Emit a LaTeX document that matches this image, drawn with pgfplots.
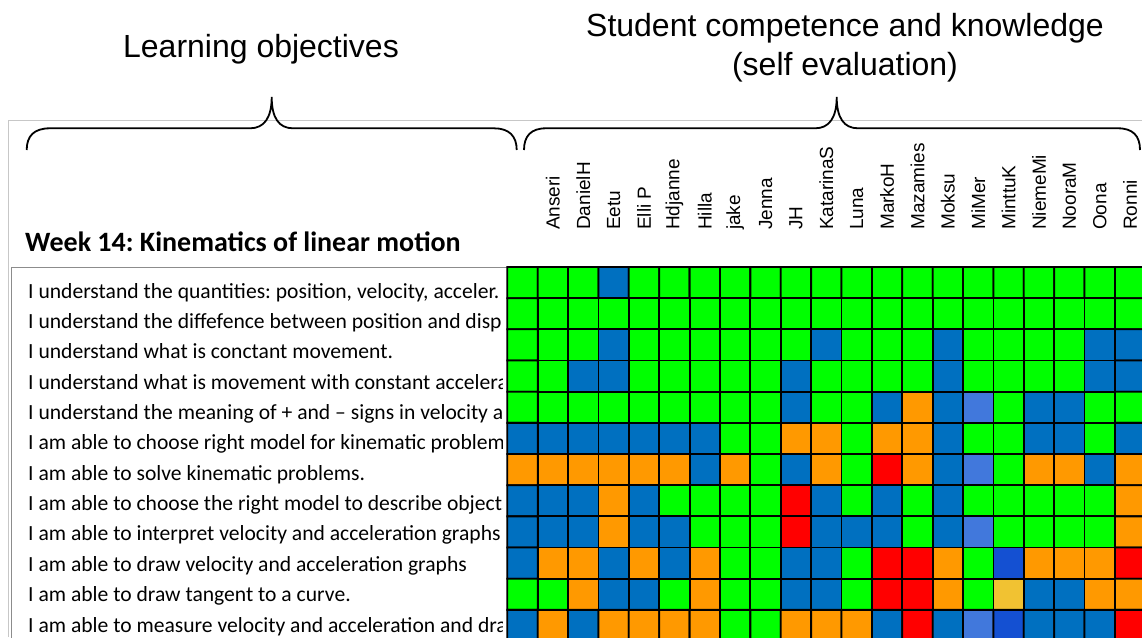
\documentclass[border=0pt]{standalone}
\usepackage{pgfplots}
\pgfplotsset{compat=1.18}
\usepackage{fontspec}
\setmainfont{Carlito}
\newfontfamily\arialfont{Liberation Sans}
\frenchspacing
\begin{document}
\frenchspacing
\begin{tikzpicture}[x=1pt,y=-1pt]
\useasboundingbox (0,0) rectangle (1142,637);
\fill[white] (0,0) rectangle (1142,637);
% outer frame
\draw[line width=1pt, black!22] (8.3,637) -- (8.3,120.5) -- (1142,120.5);
% titles
\node[anchor=base, inner sep=0pt, font=\arialfont\fontsize{32}{32}\selectfont] at (261,57) {Learning objectives};
\node[anchor=base, inner sep=0pt, font=\arialfont\fontsize{32}{32}\selectfont] at (845,36) {Student competence and knowledge};
\node[anchor=base, inner sep=0pt, font=\arialfont\fontsize{32}{32}\selectfont] at (845,75) {(self evaluation)};
% braces
\draw[line width=1.8pt, black] (26.7,150) .. controls (26.7,136) and (34,128.3) .. (50,128.3) -- (250,128.3) .. controls (264,128.3) and (271.7,118) .. (271.7,97)
  .. controls (271.7,118) and (279,128.3) .. (293,128.3) -- (494,128.3) .. controls (509,128.3) and (516.7,136) .. (516.7,150);
\draw[line width=1.8pt, black] (524,150) .. controls (524,136) and (531,128.3) .. (546,128.3) -- (815,128.3) .. controls (829,128.3) and (836.7,118) .. (836.7,97)
  .. controls (836.7,118) and (844,128.3) .. (858,128.3) -- (1118,128.3) .. controls (1133,128.3) and (1140,136) .. (1140,150);
% week title
\node[anchor=base west, inner sep=0pt, font=\bfseries\fontsize{28}{28}\selectfont] at (25,251.7) {Week 14: Kinematics of linear motion};
% statements box
\draw[black!45, line width=1.2pt] (11.5,640) -- (11.5,267.8) -- (507,267.8);
\begin{scope}
\clip (12,269) rectangle (502,637);
\begin{scope}[every node/.style={anchor=base west, inner sep=0pt, font=\fontsize{21.6}{21.6}\selectfont}]
\node at (28,298) {I understand the quantities: position, velocity, acceler.};
\node at (28,328.4) {I understand the diffefence between position and displacement};
\node at (28,358.7) {I understand what is conctant movement.};
\node at (28,389.1) {I understand what is movement with constant acceleration};
\node at (28,419.4) {I understand the meaning of + and – signs in velocity and acceleration};
\node at (28,449.8) {I am able to choose right model for kinematic problems};
\node at (28,480.2) {I am able to solve kinematic problems.};
\node at (28,510.5) {I am able to choose the right model to describe objects};
\node at (28,540.9) {I am able to interpret velocity and acceleration graphs};
\node at (28,571.2) {I am able to draw velocity and acceleration graphs};
\node at (28,601.6) {I am able to draw tangent to a curve.};
\node at (28,632) {I am able to measure velocity and acceleration and draw graphs};
\end{scope}
\end{scope}
\begin{axis}[
 at={(507.3pt,-267pt)}, anchor=north west,
 scale only axis, width=634.7pt, height=370pt,
 xmin=-0.5, xmax=20.39, ymin=-12.37, ymax=-0.5,
 axis line style={draw=none},
 ytick=\empty,
 xtick={1,...,20},
 xticklabels={Anseri,DanielH,Eetu,Elli P,Hdjanne,Hilla,jake,Jenna,JH,KatarinaS,Luna,MarkoH,Mazamies,Moksu,MiMer,MinttuK,NiemeMi,NooraM,Oona,Ronni},
 xticklabel pos=upper,
 major tick length=0pt,
 xticklabel style={rotate=90, anchor=west, inner sep=0pt, font=\arialfont\fontsize{19}{19}\selectfont},
 xticklabel shift=37pt,
 clip=false,
 colormap={cat}{rgb255=(0,255,0) rgb255=(0,112,192) rgb255=(255,153,0) rgb255=(255,0,0) rgb255=(65,120,220) rgb255=(20,80,210) rgb255=(241,194,50)},
 colormap access=direct,
]
\addplot[matrix plot*, mesh/cols=21, mesh/rows=12, point meta=explicit, shader=faceted, faceted color=black, line width=1.8pt] coordinates {
(0,-1) [0] (1,-1) [0] (2,-1) [0] (3,-1) [1] (4,-1) [0] (5,-1) [0] (6,-1) [0] (7,-1) [0] (8,-1) [0] (9,-1) [0] (10,-1) [0] (11,-1) [0] (12,-1) [0] (13,-1) [0] (14,-1) [0] (15,-1) [0] (16,-1) [0] (17,-1) [0] (18,-1) [0] (19,-1) [0] (20,-1) [0]
(0,-2) [0] (1,-2) [0] (2,-2) [0] (3,-2) [0] (4,-2) [0] (5,-2) [0] (6,-2) [0] (7,-2) [0] (8,-2) [0] (9,-2) [0] (10,-2) [0] (11,-2) [0] (12,-2) [0] (13,-2) [0] (14,-2) [0] (15,-2) [0] (16,-2) [0] (17,-2) [0] (18,-2) [0] (19,-2) [0] (20,-2) [0]
(0,-3) [0] (1,-3) [0] (2,-3) [0] (3,-3) [1] (4,-3) [0] (5,-3) [0] (6,-3) [0] (7,-3) [0] (8,-3) [0] (9,-3) [0] (10,-3) [1] (11,-3) [0] (12,-3) [0] (13,-3) [0] (14,-3) [1] (15,-3) [0] (16,-3) [0] (17,-3) [0] (18,-3) [0] (19,-3) [1] (20,-3) [1]
(0,-4) [0] (1,-4) [0] (2,-4) [1] (3,-4) [1] (4,-4) [0] (5,-4) [0] (6,-4) [0] (7,-4) [0] (8,-4) [0] (9,-4) [1] (10,-4) [0] (11,-4) [0] (12,-4) [0] (13,-4) [0] (14,-4) [1] (15,-4) [0] (16,-4) [0] (17,-4) [0] (18,-4) [0] (19,-4) [1] (20,-4) [1]
(0,-5) [0] (1,-5) [0] (2,-5) [0] (3,-5) [0] (4,-5) [0] (5,-5) [0] (6,-5) [0] (7,-5) [0] (8,-5) [0] (9,-5) [1] (10,-5) [0] (11,-5) [0] (12,-5) [1] (13,-5) [2] (14,-5) [1] (15,-5) [4] (16,-5) [0] (17,-5) [1] (18,-5) [1] (19,-5) [0] (20,-5) [0]
(0,-6) [1] (1,-6) [1] (2,-6) [1] (3,-6) [1] (4,-6) [1] (5,-6) [1] (6,-6) [1] (7,-6) [0] (8,-6) [0] (9,-6) [2] (10,-6) [2] (11,-6) [0] (12,-6) [2] (13,-6) [2] (14,-6) [1] (15,-6) [0] (16,-6) [0] (17,-6) [1] (18,-6) [1] (19,-6) [0] (20,-6) [1]
(0,-7) [2] (1,-7) [2] (2,-7) [2] (3,-7) [2] (4,-7) [2] (5,-7) [2] (6,-7) [1] (7,-7) [2] (8,-7) [0] (9,-7) [1] (10,-7) [2] (11,-7) [0] (12,-7) [3] (13,-7) [2] (14,-7) [1] (15,-7) [4] (16,-7) [0] (17,-7) [2] (18,-7) [2] (19,-7) [1] (20,-7) [2]
(0,-8) [1] (1,-8) [1] (2,-8) [1] (3,-8) [2] (4,-8) [1] (5,-8) [0] (6,-8) [0] (7,-8) [0] (8,-8) [0] (9,-8) [3] (10,-8) [1] (11,-8) [0] (12,-8) [1] (13,-8) [0] (14,-8) [1] (15,-8) [0] (16,-8) [0] (17,-8) [0] (18,-8) [0] (19,-8) [0] (20,-8) [2]
(0,-9) [1] (1,-9) [1] (2,-9) [1] (3,-9) [2] (4,-9) [1] (5,-9) [1] (6,-9) [0] (7,-9) [0] (8,-9) [0] (9,-9) [3] (10,-9) [1] (11,-9) [1] (12,-9) [1] (13,-9) [0] (14,-9) [1] (15,-9) [4] (16,-9) [0] (17,-9) [0] (18,-9) [0] (19,-9) [0] (20,-9) [2]
(0,-10) [1] (1,-10) [2] (2,-10) [2] (3,-10) [1] (4,-10) [2] (5,-10) [1] (6,-10) [2] (7,-10) [0] (8,-10) [0] (9,-10) [1] (10,-10) [1] (11,-10) [0] (12,-10) [3] (13,-10) [3] (14,-10) [2] (15,-10) [0] (16,-10) [5] (17,-10) [2] (18,-10) [2] (19,-10) [2] (20,-10) [3]
(0,-11) [0] (1,-11) [0] (2,-11) [2] (3,-11) [1] (4,-11) [1] (5,-11) [0] (6,-11) [2] (7,-11) [0] (8,-11) [0] (9,-11) [1] (10,-11) [1] (11,-11) [0] (12,-11) [3] (13,-11) [3] (14,-11) [2] (15,-11) [0] (16,-11) [6] (17,-11) [1] (18,-11) [1] (19,-11) [2] (20,-11) [2]
(0,-12) [1] (1,-12) [2] (2,-12) [1] (3,-12) [2] (4,-12) [2] (5,-12) [2] (6,-12) [2] (7,-12) [0] (8,-12) [0] (9,-12) [2] (10,-12) [2] (11,-12) [2] (12,-12) [1] (13,-12) [3] (14,-12) [1] (15,-12) [4] (16,-12) [5] (17,-12) [1] (18,-12) [1] (19,-12) [1] (20,-12) [3]
};
\end{axis}
\end{tikzpicture}
\end{document}
